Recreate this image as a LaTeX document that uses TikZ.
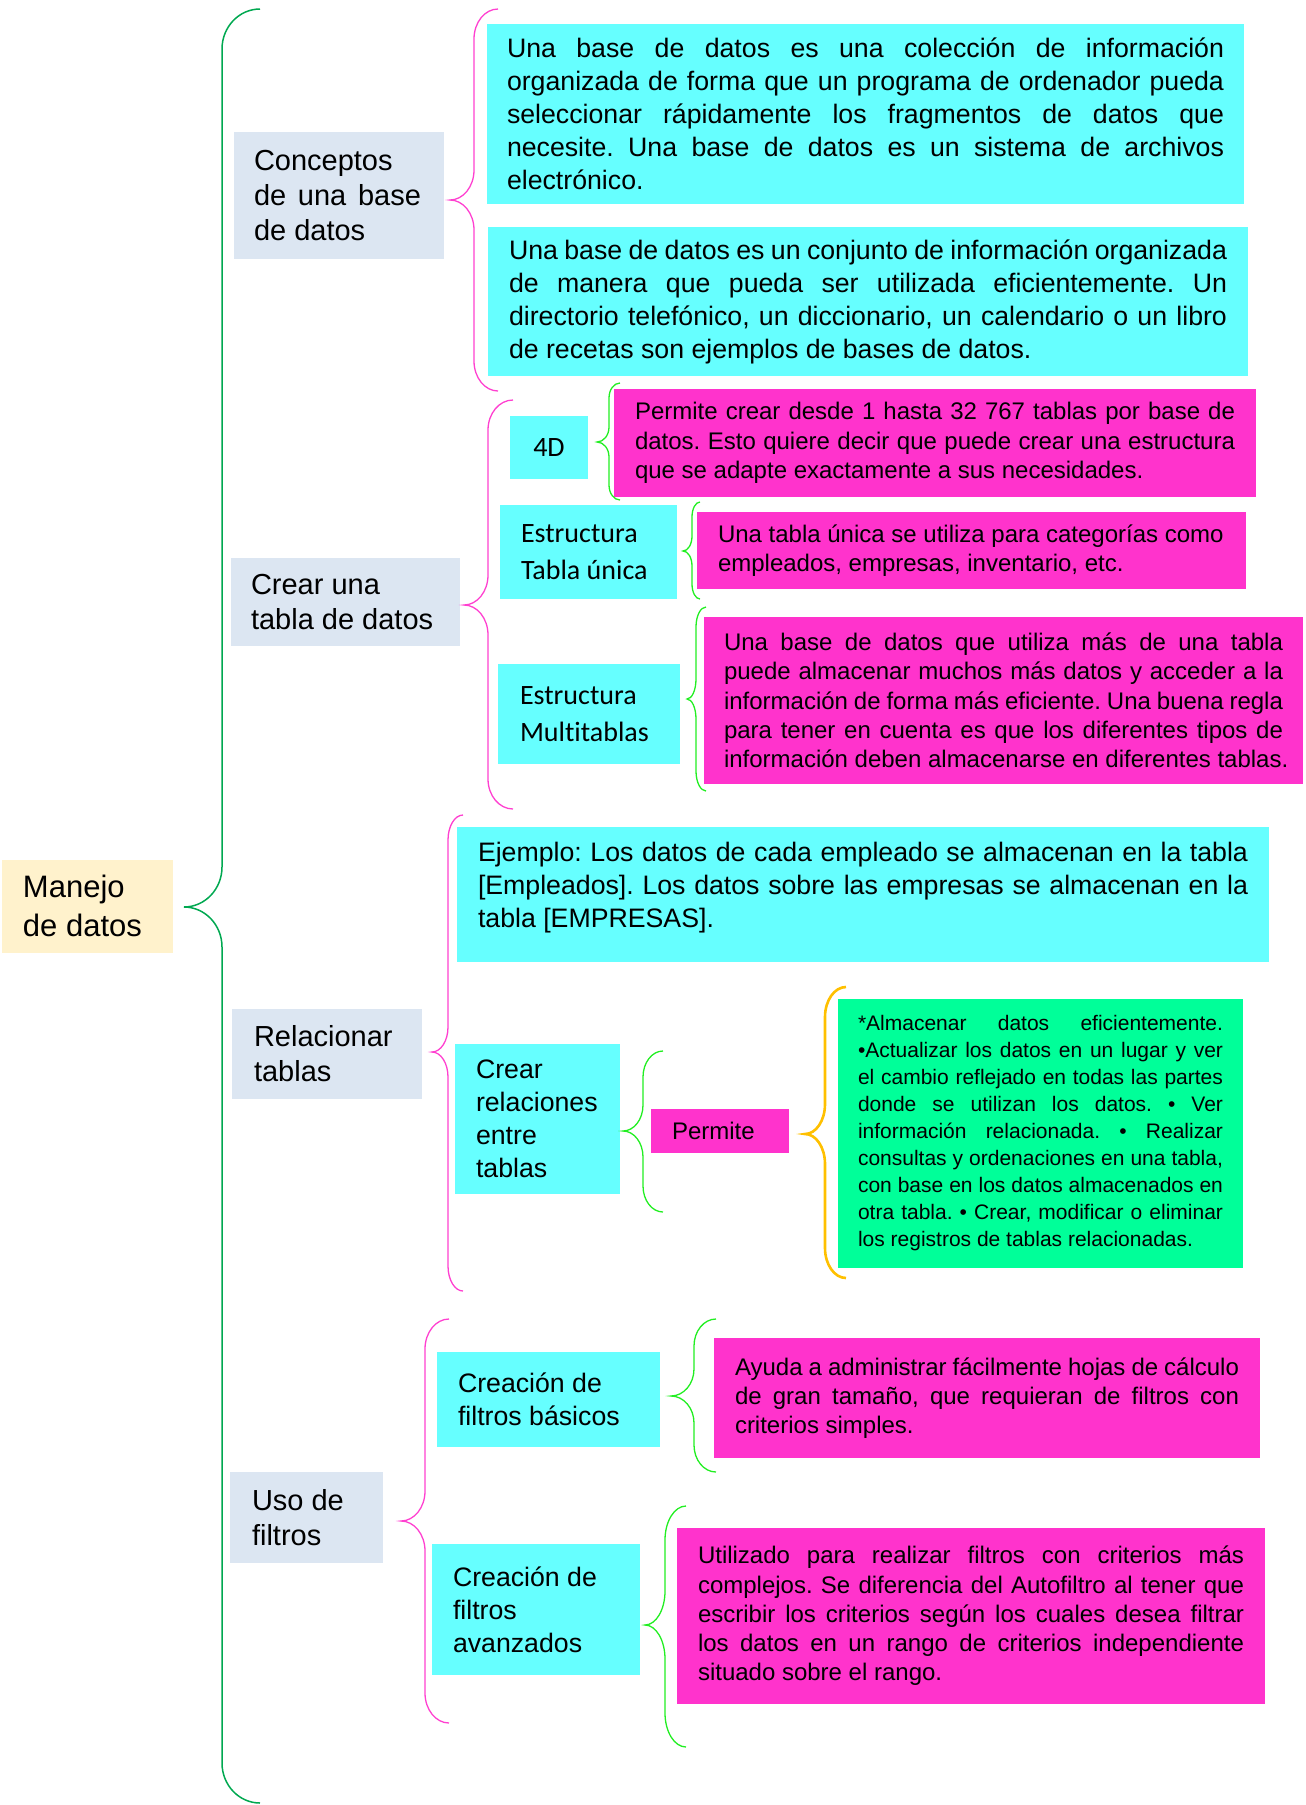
\documentclass[tikz,border=0pt]{standalone}
\usepackage{fontspec}
\setmainfont{Liberation Sans}[Ligatures=NoCommon]
\newfontfamily\calibri{Carlito}[Ligatures=NoCommon]
\frenchspacing
\definecolor{cMain}{HTML}{FFF2CC}
\definecolor{cLone}{HTML}{DCE6F2}
\definecolor{cCyan}{HTML}{66FFFF}
\definecolor{cMag}{HTML}{FF33CC}
\definecolor{cGreen}{HTML}{00FF99}
\definecolor{cMainBr}{HTML}{00A850}
\definecolor{cPinkBr}{HTML}{FF40D0}
\definecolor{cGreenBr}{HTML}{22EE22}
\definecolor{cOrange}{HTML}{FFC000}
\newcommand\nsp{\spaceskip=0pt\xspaceskip=0pt\relax}
\newcommand\jl[1]{\makebox[\linewidth][s]{\nsp #1}\\}
\newcommand\lastl[1]{\mbox{\nsp #1}}
% #1 style, #2 spine x, #3 end x, #4 tip x, #5 top y, #6 tip y, #7 bottom y, #8 curl
\newcommand\cbrace[8]{%
  \draw[#1] (#3,#5) .. controls ({#3-0.552*(#3-#2)},#5) and (#2,{#5+0.448*#8}) .. (#2,{#5+#8})
    -- (#2,{#6-#8}) .. controls (#2,{#6-0.448*#8}) and ({#2-0.448*(#2-#4)},#6) .. (#4,#6)
    .. controls ({#2-0.448*(#2-#4)},#6) and (#2,{#6+0.448*#8}) .. (#2,{#6+#8})
    -- (#2,{#7-#8}) .. controls (#2,{#7-0.448*#8}) and ({#3-0.552*(#3-#2)},#7) .. (#3,#7);}
\begin{document}
\begin{tikzpicture}[x=1pt,y=-1pt,
  base/.style={inner sep=0pt, outer sep=0pt, text=black},
  topbox/.style={base, fill=cMain, font=\fontsize{31}{39}\selectfont},
  lone/.style={base, fill=cLone, font=\fontsize{29}{35}\selectfont},
  cybox/.style={base, fill=cCyan, font=\fontsize{26.7}{33}\selectfont},
  cycal/.style={base, fill=cCyan, font=\calibri\fontsize{28}{37}\selectfont},
  mgbox/.style={base, fill=cMag, font=\fontsize{24}{29.3}\selectfont},
  gnbox/.style={base, fill=cGreen, font=\fontsize{21}{27}\selectfont},
  pinkbr/.style={draw=cPinkBr, line width=1.3pt},
  greenbr/.style={draw=cGreenBr, line width=1.3pt},
  mainbr/.style={draw=cMainBr, line width=1.5pt},
  orangebr/.style={draw=cOrange, line width=2.6pt}]
\path[use as bounding box] (0,0) rectangle (1306,1805);

% root
\node[topbox, minimum width=171pt, minimum height=93pt, text width=129pt] (root) at (87.5,906) {\nsp Manejo\\de datos};

% level one
\node[lone, minimum width=210pt, minimum height=127pt, text width=170pt] (concept) at (339,195.5) {\nsp Conceptos\\\makebox[167pt][s]{\nsp de una base}\\de datos};
\node[lone, minimum width=229pt, minimum height=88pt, text width=189pt] (crear) at (345.5,602) {\nsp Crear una\\tabla de datos};
\node[lone, minimum width=190pt, minimum height=90pt, text width=146pt] (relac) at (327,1054) {\nsp Relacionar\\tablas};
\node[lone, minimum width=153pt, minimum height=91pt, text width=109pt] (uso) at (306.5,1517.5) {\nsp Uso de\\filtros};

% conceptos children
\node[cybox, minimum width=757pt, minimum height=180pt, text width=717pt] (c1) at (865.5,114) {%
\jl{Una base de datos es una colección de información}%
\jl{organizada de forma que un programa de ordenador pueda}%
\jl{seleccionar rápidamente los fragmentos de datos que}%
\jl{necesite. Una base de datos es un sistema de archivos}%
\lastl{electrónico.}};
\node[cybox, minimum width=760pt, minimum height=149pt, text width=718pt] (c2) at (868,301.5) {%
\jl{Una base de datos es un conjunto de información organizada}%
\jl{de manera que pueda ser utilizada eficientemente. Un}%
\jl{directorio telefónico, un diccionario, un calendario o un libro}%
\lastl{de recetas son ejemplos de bases de datos.}};

% crear tabla children
\node[cycal, minimum width=78pt, minimum height=63pt] (d4) at (549,447.5) {4D};
\node[mgbox, minimum width=642pt, minimum height=108pt, text width=600pt] (d4t) at (935,443) {%
\jl{Permite crear desde 1 hasta 32 767 tablas por base de}%
\jl{datos. Esto quiere decir que puede crear una estructura}%
\lastl{que se adapte exactamente a sus necesidades.}};
\node[cycal, minimum width=177pt, minimum height=94pt, text width=135pt] (tu) at (588.5,552) {\nsp Estructura\\Tabla única};
\node[mgbox, minimum width=549pt, minimum height=77pt, text width=507pt] (tut) at (971.5,550.5) {%
\lastl{Una tabla única se utiliza para categorías como}\\
\lastl{empleados, empresas, inventario, etc.}};
\node[cycal, minimum width=182pt, minimum height=100pt, text width=138pt] (mt) at (589,714) {\nsp Estructura\\Multitablas};
\node[mgbox, minimum width=599pt, minimum height=167pt, text width=559pt] (mtt) at (1003.5,700.5) {%
\jl{Una base de datos que utiliza más de una tabla}%
\jl{puede almacenar muchos más datos y acceder a la}%
\jl{información de forma más eficiente. Una buena regla}%
\jl{para tener en cuenta es que los diferentes tipos de}%
\lastl{información deben almacenarse en diferentes tablas.}};

% relacionar children
\node[cybox, minimum width=812pt, minimum height=135pt, text width=770pt] (ej) at (863,894.5) {%
\jl{Ejemplo: Los datos de cada empleado se almacenan en la tabla}%
\jl{[Empleados]. Los datos sobre las empresas se almacenan en la}%
\lastl{tabla [EMPRESAS].}\par\vspace{14pt}\hrule height 0pt};
\node[cybox, minimum width=165pt, minimum height=150pt, text width=123pt] (cr) at (537.5,1119) {\nsp Crear\\relaciones\\entre\\tablas};
\node[mgbox, minimum width=138pt, minimum height=44pt, text width=96pt] (perm) at (720,1131) {Permite};
\node[gnbox, minimum width=405pt, minimum height=269pt, text width=365pt] (gn) at (1040.5,1133.5) {%
\jl{*Almacenar datos eficientemente.}%
\jl{•Actualizar los datos en un lugar y ver}%
\jl{el cambio reflejado en todas las partes}%
\jl{donde se utilizan los datos. • Ver}%
\jl{información relacionada. • Realizar}%
\jl{consultas y ordenaciones en una tabla,}%
\jl{con base en los datos almacenados en}%
\jl{otra tabla. • Crear, modificar o eliminar}%
\lastl{los registros de tablas relacionadas.}};

% uso de filtros children
\node[cybox, minimum width=223pt, minimum height=95pt, text width=181pt] (fb) at (548.5,1399.5) {\nsp Creación de\\filtros básicos};
\node[mgbox, minimum width=546pt, minimum height=120pt, text width=504pt] (fbt) at (987,1398) {%
\jl{Ayuda a administrar fácilmente hojas de cálculo}%
\jl{de gran tamaño, que requieran de filtros con}%
\lastl{criterios simples.}};
\node[cybox, minimum width=208pt, minimum height=131pt, text width=166pt] (fa) at (536,1609.5) {\nsp Creación de\\filtros\\avanzados};
\node[mgbox, minimum width=588pt, minimum height=176pt, text width=546pt] (fat) at (971,1616) {%
\jl{Utilizado para realizar filtros con criterios más}%
\jl{complejos. Se diferencia del Autofiltro al tener que}%
\jl{escribir los criterios según los cuales desea filtrar}%
\jl{los datos en un rango de criterios independiente}%
\lastl{situado sobre el rango.}};

% braces
\cbrace{mainbr}{222}{260}{184}{9}{907}{1803}{40}
\cbrace{pinkbr}{474}{498}{450}{9}{200}{391}{30}
\cbrace{pinkbr}{488}{513}{464}{400}{605}{809}{30}
\cbrace{pinkbr}{448}{463}{432}{815}{1052}{1291}{25}
\cbrace{pinkbr}{425}{449}{401}{1319}{1521}{1723}{30}
\cbrace{greenbr}{609}{620}{597}{383}{442}{500}{15}
\cbrace{greenbr}{692}{700}{683}{502}{551}{599}{15}
\cbrace{greenbr}{696}{706}{687}{607}{699}{791}{20}
\cbrace{greenbr}{643}{663}{623}{1051}{1131}{1212}{26}
\cbrace{orangebr}{825}{846}{805}{987}{1134}{1278}{30}
\cbrace{greenbr}{694}{716}{671}{1319}{1396}{1472}{27}
\cbrace{greenbr}{665}{686}{645}{1506}{1625}{1747}{34}
\end{tikzpicture}
\end{document}
